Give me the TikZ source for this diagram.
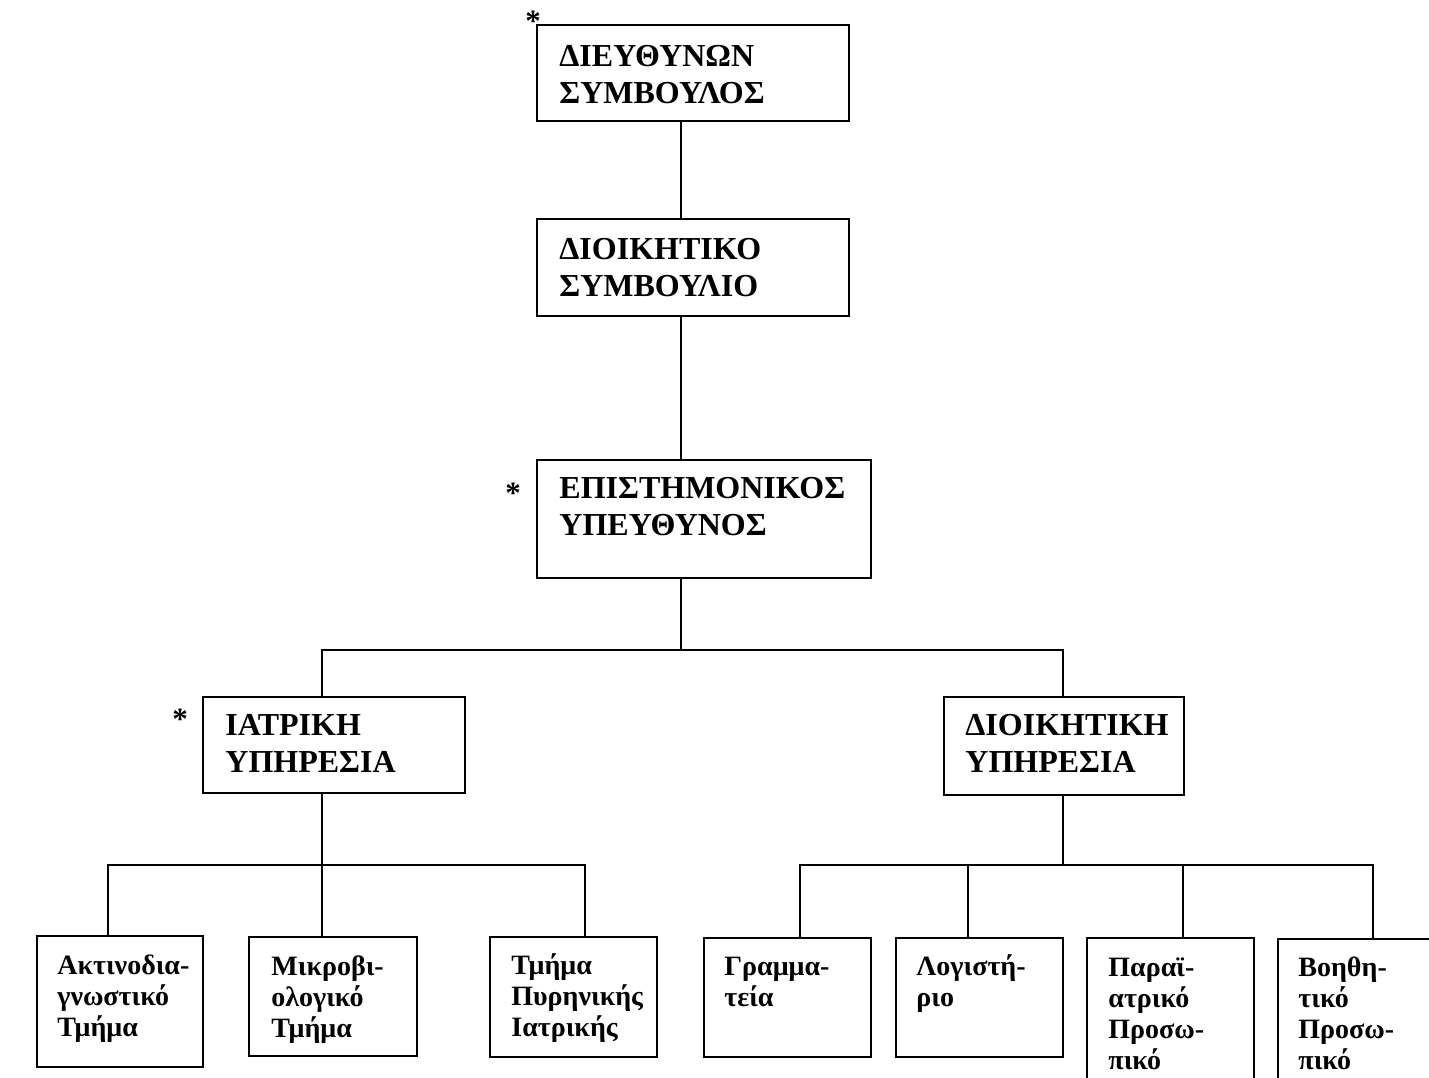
\documentclass[tikz,border=0pt]{standalone}
\usepackage{fontspec}
\setmainfont{Liberation Serif}
\usetikzlibrary{fit}
\tikzset{
  boxst/.style={draw, line width=0.9pt, inner sep=0pt},
  bigtxt/.style={anchor=north west, inner sep=0pt, align=left, font=\fontsize{16}{18.5}\selectfont\bfseries},
  smalltxt/.style={anchor=north west, inner sep=0pt, align=left, font=\fontsize{14}{15.5}\selectfont\bfseries},
  star/.style={anchor=base, inner sep=0pt, font=\fontsize{15.5}{17}\selectfont\bfseries},
  conn/.style={line width=0.7pt}
}
\begin{document}
\begin{tikzpicture}[x=0.5pt, y=-0.5pt]
\clip (0,0) rectangle (1429,1077);
\fill[white] (0,0) rectangle (1429,1077);
% boxes
\node[boxst, fit={(537,25) (849,121)}] (ds) {};
\node[boxst, fit={(537,219) (849,316)}] (dsb) {};
\node[boxst, fit={(537,460) (871,578)}] (eu) {};
\node[boxst, fit={(203,697) (465,793)}] (iy) {};
\node[boxst, fit={(944,697) (1184,795)}] (dy) {};
\node[boxst, fit={(37,936) (203,1067)}] (b1) {};
\node[boxst, fit={(249,937) (417,1056)}] (b2) {};
\node[boxst, fit={(490,937) (657,1057)}] (b3) {};
\node[boxst, fit={(704,938) (871,1057)}] (b4) {};
\node[boxst, fit={(896,938) (1063,1057)}] (b5) {};
\node[boxst, fit={(1087,938) (1254,1100)}] (b6) {};
\node[boxst, fit={(1278,939) (1460,1100)}] (b7) {};
% texts
\node[bigtxt] (tds) at (559,45) {ΔΙΕΥΘΥΝΩΝ\\ΣΥΜΒΟΥΛΟΣ};
\node[bigtxt] (tdsb) at (559,238) {ΔΙΟΙΚΗΤΙΚΟ\\ΣΥΜΒΟΥΛΙΟ};
\node[bigtxt] (teu) at (559,477) {ΕΠΙΣΤΗΜΟΝΙΚΟΣ\\ΥΠΕΥΘΥΝΟΣ};
\node[bigtxt] (tiy) at (225,714) {ΙΑΤΡΙΚΗ\\ΥΠΗΡΕΣΙΑ};
\node[bigtxt] (tdy) at (965,714) {ΔΙΟΙΚΗΤΙΚΗ\\ΥΠΗΡΕΣΙΑ};
\node[smalltxt] (tb1) at (57,955) {Ακτινοδια-\\γνωστικό\\Τμήμα};
\node[smalltxt] (tb2) at (271,955) {Μικροβι-\\ολογικό\\Τμήμα};
\node[smalltxt] (tb3) at (511,953) {Τμήμα\\Πυρηνικής\\Ιατρικής};
\node[smalltxt] (tb4) at (724,957) {Γραμμα-\\τεία};
\node[smalltxt] (tb5) at (916,954) {Λογιστή-\\ριο};
\node[smalltxt] (tb6) at (1108,957) {Παραϊ-\\ατρικό\\Προσω-\\πικό};
\node[smalltxt] (tb7) at (1298,957) {Βοηθη-\\τικό\\Προσω-\\πικό};
% asterisks
\node[star] (s1) at (533,31) {*};
\node[star] (s2) at (513,503) {*};
\node[star] (s3) at (180,729) {*};
% connectors
\coordinate (c0) at (681,0);
\draw[conn] (c0 |- ds.south) -- (c0 |- dsb.north);
\draw[conn] (c0 |- dsb.south) -- (c0 |- eu.north);
\coordinate (j1) at (681,650);
\coordinate (j1l) at (322,650);
\coordinate (j1r) at (1063,650);
\draw[conn] (j1 |- eu.south) -- (j1);
\draw[conn] (j1l |- iy.north) -- (j1l) -- (j1r) -- (j1r |- dy.north);
\coordinate (j2) at (322,865);
\coordinate (j2a) at (108,865);
\coordinate (j2c) at (585,865);
\draw[conn] (j2 |- iy.south) -- (j2);
\draw[conn] (j2a |- b1.north) -- (j2a) -- (j2c) -- (j2c |- b3.north);
\draw[conn] (j2) -- (j2 |- b2.north);
\coordinate (j3) at (1063,865);
\coordinate (j3a) at (800,865);
\coordinate (j3b) at (968,865);
\coordinate (j3c) at (1183,865);
\coordinate (j3d) at (1373,865);
\draw[conn] (j3 |- dy.south) -- (j3);
\draw[conn] (j3a |- b4.north) -- (j3a) -- (j3d) -- (j3d |- b7.north);
\draw[conn] (j3b) -- (j3b |- b5.north);
\draw[conn] (j3c) -- (j3c |- b6.north);
\end{tikzpicture}
\end{document}
